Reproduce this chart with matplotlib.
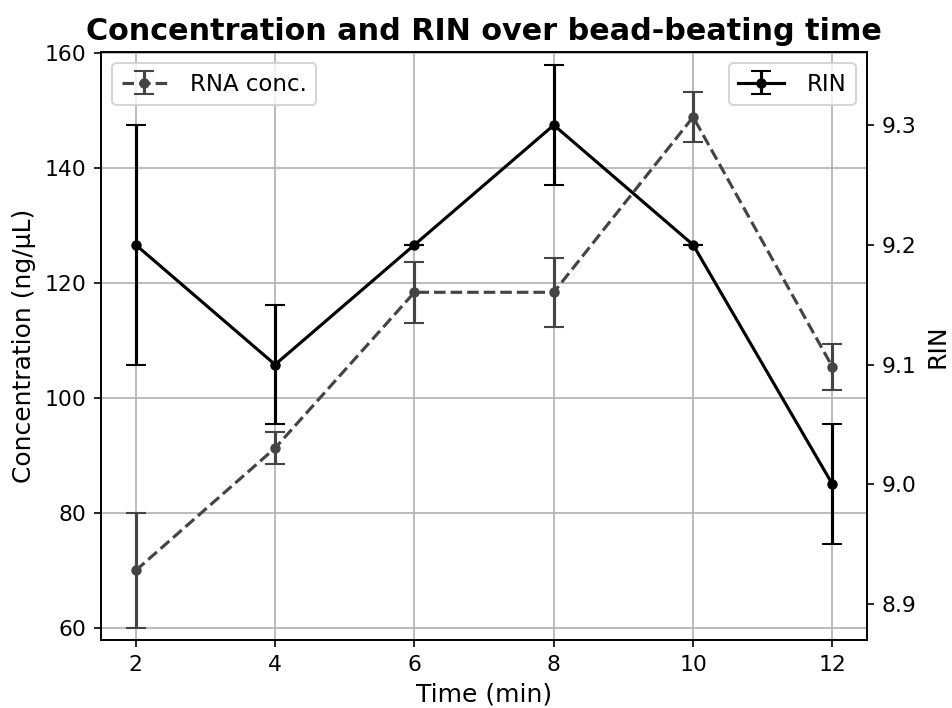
import matplotlib.pyplot as plt
import numpy as np

# Datos
tiempo = [2, 4, 6, 8, 10, 12]
conc = [70.0, 91.3, 118.4, 118.4, 148.9, 105.4]
conc_err = [10.0, 2.8, 5.3, 6.0, 4.4, 4.0]
rin = [9.2, 9.1, 9.2, 9.3, 9.2, 9.0]
rin_err = [0.1, 0.05, 0.0, 0.05, 0.0, 0.05]

fig = plt.figure(figsize=(6.347, 4.72), dpi=150)
ax1 = fig.add_axes([0.106, 0.096, 0.805, 0.8305])

ax1.errorbar(tiempo, conc, yerr=conc_err, color='#444444', linestyle='--',
             marker='o', markersize=4, capsize=5, label='RNA conc.')
ax1.set_xlabel('Time (min)', fontsize=12)
ax1.set_ylabel('Concentration (ng/µL)', fontsize=12)
ax1.set_ylim(57.9, 160.2)
ax1.set_yticks(np.arange(60, 161, 20))
ax1.tick_params(labelsize=10.5)
ax1.grid(True)
ax1.legend(loc='upper left', fontsize=11, handletextpad=1.0)

# Segundo eje para RIN
ax2 = ax1.twinx()
ax2.errorbar(tiempo, rin, yerr=rin_err, color='black', linestyle='-',
             marker='o', markersize=4, capsize=5, label='RIN')
ax2.set_ylabel('RIN', fontsize=12)
ax2.set_ylim(8.870, 9.361)
ax2.set_yticks([8.9, 9.0, 9.1, 9.2, 9.3])
ax2.tick_params(labelsize=10.5)
ax2.legend(loc='upper right', fontsize=11, handletextpad=1.0)

ax1.set_title('Concentration and RIN over bead-beating time',
              fontsize=14.5, fontweight='bold')

fig.savefig('out.png', dpi=150)
